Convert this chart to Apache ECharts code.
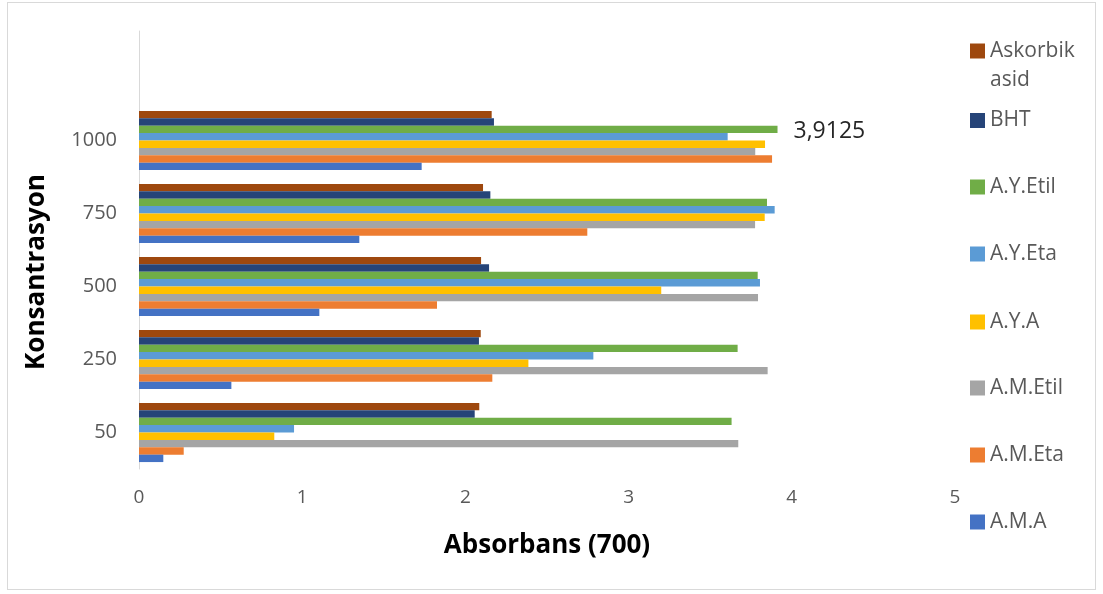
<!DOCTYPE html>
<html>
<head>
<meta charset="utf-8">
<script src="https://cdn.jsdelivr.net/npm/echarts@6/dist/echarts.min.js"></script>
<style>
  html, body { margin: 0; padding: 0; background: #fff; }
  #wrap { position: relative; width: 1103px; height: 594px; }
  #frame { position: absolute; left: 7px; top: 2px; width: 1089px; height: 588px; border: 1px solid #d9d9d9; box-sizing: border-box; }
  #chart { position: absolute; left: 0; top: 0; width: 1103px; height: 594px; }
</style>
</head>
<body>
<div id="wrap"><div id="frame"></div><div id="chart"></div></div>
<script>
// Concentration groups (bottom to top); the last slot is an empty row
const categories = ['50', '250', '500', '750', '1000', ''];
const xTicks = [0, 1, 2, 3, 4, 5];

// Absorbance at 700 nm for each extract / standard
const amA      = [0.149, 0.566, 1.105, 1.350, 1.732, null];
const amEta    = [0.274, 2.165, 1.826, 2.747, 3.879, null];
const amEtil   = [3.672, 3.852, 3.793, 3.775, 3.776, null];
const ayA      = [0.829, 2.386, 3.200, 3.834, 3.836, null];
const ayEta    = [0.950, 2.784, 3.805, 3.895, 3.607, null];
const ayEtil   = [3.631, 3.668, 3.791, 3.848, 3.9125, null];
const bht      = [2.057, 2.083, 2.145, 2.153, 2.175, null];
const askorbik = [2.085, 2.094, 2.096, 2.108, 2.161, null];

// listed top bar first within each group
const seriesDefs = [
  { name: 'Askorbik asid', data: askorbik, color: '#9E480E' },
  { name: 'BHT',           data: bht,      color: '#264478' },
  { name: 'A.Y.Etil',      data: ayEtil,   color: '#70AD47' },
  { name: 'A.Y.Eta',       data: ayEta,    color: '#5B9BD5' },
  { name: 'A.Y.A',         data: ayA,      color: '#FFC000' },
  { name: 'A.M.Etil',      data: amEtil,   color: '#A5A5A5' },
  { name: 'A.M.Eta',       data: amEta,    color: '#ED7D31' },
  { name: 'A.M.A',         data: amA,      color: '#4472C4' }
];

// vertical centre of each legend entry
const legendCenters = {
  'Askorbik asid': 51, 'BHT': 117.5, 'A.Y.Etil': 184, 'A.Y.Eta': 251,
  'A.Y.A': 319, 'A.M.Etil': 385, 'A.M.Eta': 452, 'A.M.A': 519
};

const FONT = '"Open Sans", "Noto Sans", sans-serif';
const LEGEND_SIZE = 21;
const WRAP_LH = 29;
const SWATCH = 15;

const series = seriesDefs.map(s => {
  const item = {
    name: s.name,
    type: 'bar',
    data: s.data.slice(),
    itemStyle: { color: s.color },
    barGap: '0%',
    barCategoryGap: '19%',
    emphasis: { disabled: true }
  };
  if (s.name === 'A.Y.Etil') {
    // value label on the 1000 group
    item.data = s.data.map((v, i) => i === 4 ? {
      value: v,
      label: {
        show: true, position: 'right', distance: 16, offset: [0, 2],
        formatter: p => String(p.value).replace('.', ','),
        fontFamily: FONT, fontSize: 23, color: '#262626'
      }
    } : v);
  }
  return item;
});

const legends = seriesDefs.map(s => {
  const wrapped = s.name === 'Askorbik asid';
  // the wrapped entry keeps its first line level with the swatch
  return {
    data: [s.name],
    left: 970,
    top: wrapped ? legendCenters[s.name] - 1.5 * WRAP_LH : legendCenters[s.name] - SWATCH / 2,
    orient: 'vertical',
    padding: 0,
    itemWidth: SWATCH,
    itemHeight: SWATCH,
    selectedMode: false,
    icon: 'rect',
    formatter: wrapped ? (n => '\n' + n.replace(' ', '\n')) : undefined,
    textStyle: wrapped
      ? { fontFamily: FONT, fontSize: LEGEND_SIZE, color: '#595959', lineHeight: WRAP_LH }
      : { fontFamily: FONT, fontSize: LEGEND_SIZE, color: '#595959' }
  };
});

const chart = echarts.init(document.getElementById('chart'), null, { renderer: 'canvas' });
chart.setOption({
  animation: false,
  backgroundColor: 'transparent',
  grid: { left: 139, top: 31, width: 816, height: 438, containLabel: false },
  legend: legends,
  xAxis: {
    type: 'value',
    min: xTicks[0],
    max: xTicks[xTicks.length - 1],
    interval: 1,
    axisLine: { show: false },
    axisTick: { show: false },
    splitLine: { show: false },
    axisLabel: { margin: 19, fontFamily: FONT, fontSize: 19, color: '#595959' },
    name: 'Absorbans (700)',
    nameLocation: 'middle',
    nameGap: 64,
    nameTextStyle: { fontFamily: FONT, fontSize: 26, fontWeight: 'bold', color: '#000' }
  },
  yAxis: {
    type: 'category',
    data: categories,
    axisLine: { show: true, lineStyle: { color: '#d9d9d9', width: 1 } },
    axisTick: { show: false },
    splitLine: { show: false },
    axisLabel: { margin: 22, fontFamily: FONT, fontSize: 20, color: '#595959' },
    name: 'Konsantrasyon',
    nameLocation: 'middle',
    nameGap: 89,
    nameRotate: 90,
    nameTextStyle: { fontFamily: FONT, fontSize: 26, fontWeight: 'bold', color: '#000', padding: [0, 44, 0, 0] }
  },
  series: series
});
</script>
</body>
</html>
